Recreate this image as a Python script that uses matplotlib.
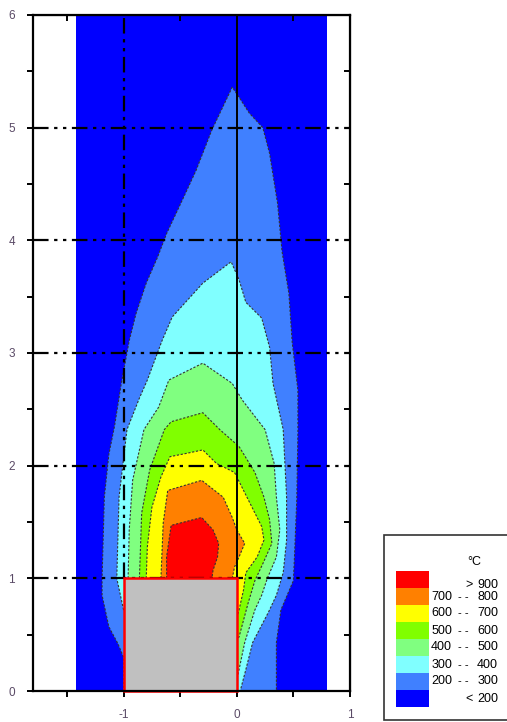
import matplotlib
matplotlib.use('Agg')
import matplotlib.pyplot as plt
from matplotlib.patches import Rectangle

plt.rcParams['font.family'] = ['Liberation Sans', 'DejaVu Sans']
plt.rcParams['axes.unicode_minus'] = False

# isotherm outlines (x, y), outer to inner
iso200 = [(-1.0, 0.3), (-1.05, 0.42), (-1.13, 0.57), (-1.19, 0.85), (-1.19, 1.0),
          (-1.17, 1.72), (-1.13, 2.1), (-1.08, 2.35), (-1.02, 2.73), (-0.95, 3.11),
          (-0.89, 3.35), (-0.80, 3.62), (-0.70, 3.85), (-0.62, 4.06), (-0.48, 4.36),
          (-0.36, 4.62), (-0.22, 4.98), (-0.04, 5.36), (0.02, 5.27), (0.11, 5.13),
          (0.23, 5.0), (0.29, 4.77), (0.36, 4.33), (0.40, 3.9), (0.46, 3.53),
          (0.49, 3.09), (0.54, 2.67), (0.54, 2.3), (0.53, 1.7), (0.51, 1.2),
          (0.50, 0.98), (0.39, 0.72), (0.35, 0.43), (0.35, 0.0), (-1.0, 0.0)]
iso300 = [(-1.0, 0.72), (-1.06, 1.0), (-1.04, 1.72), (-0.97, 2.32), (-0.86, 2.6),
          (-0.79, 2.76), (-0.66, 3.11), (-0.57, 3.32), (-0.30, 3.62), (-0.05, 3.81),
          (0.02, 3.65), (0.08, 3.45), (0.22, 3.31), (0.29, 3.05), (0.32, 2.73),
          (0.41, 2.32), (0.44, 1.72), (0.44, 1.34), (0.41, 1.05), (0.35, 0.85),
          (0.28, 0.7), (0.14, 0.43), (0.08, 0.19), (0.03, 0.0), (-0.5, 0.0), (-0.5, 0.7)]
iso400 = [(-0.96, 1.0), (-0.95, 1.43), (-0.92, 1.87), (-0.82, 2.32), (-0.69, 2.52),
          (-0.60, 2.76), (-0.30, 2.91), (-0.04, 2.73), (0.05, 2.58), (0.25, 2.32),
          (0.33, 2.02), (0.35, 1.72), (0.38, 1.43), (0.35, 1.19), (0.27, 1.0),
          (0.22, 0.85), (0.16, 0.72), (0.07, 0.43), (0.02, 0.19), (0.0, 0.1), (-0.5, 0.5)]
iso500 = [(-0.86, 1.0), (-0.84, 1.58), (-0.77, 1.96), (-0.64, 2.32), (-0.58, 2.39),
          (-0.30, 2.47), (-0.15, 2.32), (0.02, 2.17), (0.16, 1.94), (0.24, 1.72),
          (0.29, 1.52), (0.31, 1.31), (0.23, 1.13), (0.16, 0.98), (0.10, 0.78),
          (0.02, 0.48), (0.0, 0.45), (-0.5, 0.6)]
iso600 = [(-0.80, 1.0), (-0.79, 1.28), (-0.75, 1.63), (-0.67, 1.9), (-0.59, 2.08),
          (-0.44, 2.11), (-0.30, 2.14), (-0.18, 2.02), (-0.02, 1.94), (0.11, 1.68),
          (0.22, 1.46), (0.24, 1.34), (0.18, 1.19), (0.08, 1.05), (0.06, 0.9),
          (0.02, 0.72), (0.0, 0.65), (-0.5, 0.8)]
iso700 = [(-0.67, 1.0), (-0.65, 1.49), (-0.61, 1.78), (-0.31, 1.87), (-0.12, 1.72),
          (-0.04, 1.54), (0.0, 1.43), (0.07, 1.31), (0.02, 1.19), (-0.02, 1.1),
          (-0.04, 1.0), (-0.3, 0.9)]
iso900 = [(-0.62, 1.0), (-0.62, 1.19), (-0.58, 1.47), (-0.31, 1.54), (-0.21, 1.43),
          (-0.16, 1.31), (-0.17, 1.19), (-0.21, 1.07), (-0.22, 1.0), (-0.4, 0.9)]

outlines = [iso200, iso300, iso400, iso500, iso600, iso700, iso900]
fills = ['#4080FF', '#80FFFF', '#80FF80', '#80FF00', '#FFFF00', '#FF8000', '#FF0000']
cold = '#0000FF'
domain_x = (-1.42, 0.80)

legend_colors = ['#FF0000', '#FF8000', '#FFFF00', '#80FF00', '#80FF80', '#80FFFF', '#4080FF', '#0000FF']
legend_lo = ['>', '700', '600', '500', '400', '300', '200', '<']
legend_hi = ['900', '800', '700', '600', '500', '400', '300', '200']

fig = plt.figure(figsize=(5.07, 7.22), dpi=100)
ax = fig.add_axes([33 / 507, 31 / 722, 317 / 507, 676 / 722])
ax.set_xlim(-1.8, 1.0)
ax.set_ylim(0, 6)

ax.axvspan(domain_x[0], domain_x[1], color=cold, lw=0, zorder=0)
for pts, c in zip(outlines, fills):
    xs = [p[0] for p in pts]
    ys = [p[1] for p in pts]
    ax.fill(xs, ys, facecolor=c, edgecolor='#333333', lw=0.8,
            linestyle=(0, (2, 1.5)), zorder=1)

dashdotdot = (0, (7, 2.5, 1.5, 2.5, 1.5, 2.5))
for yv in [1, 2, 3, 4, 5]:
    ax.axhline(yv, color='black', lw=1.6, linestyle=dashdotdot, zorder=3)
ax.plot([-1, -1], [1, 6], color='black', lw=1.6, linestyle=dashdotdot, zorder=3)
ax.axvline(0, color='black', lw=1.4, zorder=3)

ax.add_patch(Rectangle((-1, 0), 1, 1, facecolor='#C0C0C0', edgecolor='red',
                       lw=1.8, zorder=5, clip_on=False))

for s in ax.spines.values():
    s.set_linewidth(1.6)
    s.set_zorder(6)

ax.set_xticks([-1, 0, 1])
ax.set_xticks([-1.5, -0.5, 0.5], minor=True)
ax.set_yticks(range(7))
ax.set_yticks([0.5, 1.5, 2.5, 3.5, 4.5, 5.5], minor=True)
ax.tick_params(which='both', direction='out', width=1.4, labelsize=8.5,
               labelcolor='#5a4a66')
ax.tick_params(which='major', length=4)
ax.tick_params(which='minor', length=4)
ax.tick_params(axis='x', pad=9)
ax.tick_params(axis='y', pad=9)

top = ax.secondary_xaxis('top')
top.set_xticks([-1.5, -0.5, 0.5])
top.tick_params(direction='in', length=4, width=1.4, labeltop=False)
right = ax.secondary_yaxis('right')
right.set_yticks([0.5, 1.5, 2.5, 3.5, 4.5, 5.5])
right.tick_params(direction='in', length=4, width=1.4, labelright=False)

# legend box
fig.patches.append(Rectangle((384 / 507, 1 - 720 / 722), 130 / 507, 185 / 722,
                             transform=fig.transFigure, facecolor='white',
                             edgecolor='#333333', lw=1.2))
fig.text(474 / 507, 1 - 562 / 722, '°C', fontsize=9, ha='center', va='center')
for i, c in enumerate(legend_colors):
    top_px = 571 + i * 17
    fig.patches.append(Rectangle((396 / 507, 1 - (top_px + 17) / 722), 33 / 507, 17 / 722,
                                 transform=fig.transFigure, facecolor=c, lw=0))
    yc = 1 - (top_px + 8.5 + (5 if i == 0 else 0)) / 722
    if legend_lo[i] in ('>', '<'):
        fig.text(473 / 507, yc, legend_lo[i], fontsize=9, ha='right', va='center')
    else:
        fig.text(452 / 507, yc, legend_lo[i], fontsize=9, ha='right', va='center')
        fig.text(463 / 507, yc, '- -', fontsize=8, ha='center', va='center')
    fig.text(498 / 507, yc, legend_hi[i], fontsize=9, ha='right', va='center')

fig.savefig('out.png', dpi=100)
